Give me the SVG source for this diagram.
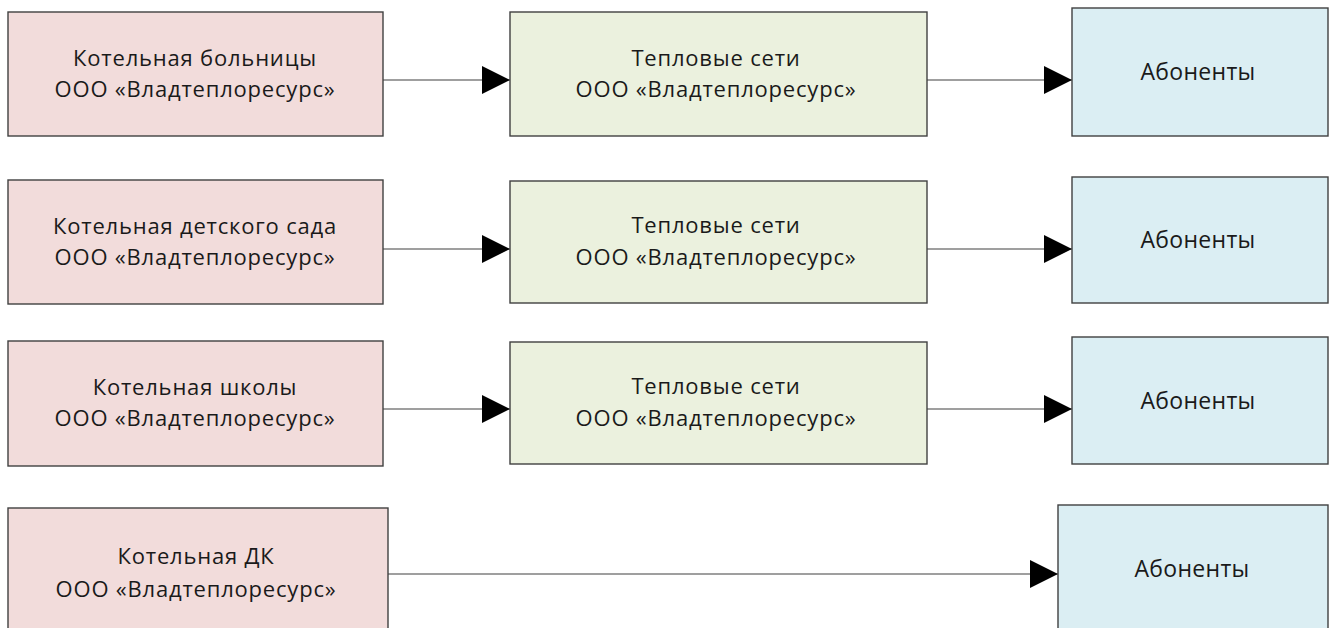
<svg xmlns="http://www.w3.org/2000/svg" width="1335" height="628" viewBox="0 0 1335 628">
<style>
  .box { stroke: #404040; stroke-width: 1.4; }
  .src { fill: #f2dcdb; }
  .net { fill: #ebf1de; }
  .sub { fill: #dbeef3; }
  text { font-family: "Open Sans", "Noto Sans", sans-serif; font-size: 22px; letter-spacing: 0.8px; fill: #1a1a1a; text-anchor: middle; }
  text.ab { font-size: 23px; letter-spacing: 0.3px; }
  .conn { stroke: #404040; stroke-width: 1.2; fill: none; marker-end: url(#arrow); }
</style>
<defs>
  <marker id="arrow" markerUnits="userSpaceOnUse" markerWidth="28" markerHeight="28" refX="28" refY="14" orient="auto">
    <path d="M0,0 L28,14 L0,28 z" fill="#000"/>
  </marker>
</defs>
<rect width="1335" height="628" fill="#fff"/>

<g id="connectors">
  <line class="conn" x1="383" y1="80" x2="510" y2="80"/>
  <line class="conn" x1="927" y1="80" x2="1072" y2="80"/>
  <line class="conn" x1="383" y1="249" x2="510" y2="249"/>
  <line class="conn" x1="927" y1="249" x2="1072" y2="249"/>
  <line class="conn" x1="383" y1="409" x2="510" y2="409"/>
  <line class="conn" x1="927" y1="409" x2="1072" y2="409"/>
  <line class="conn" x1="388" y1="574" x2="1058" y2="574"/>
</g>

<g id="src1">
  <rect class="box src" x="8" y="12" width="375" height="124"/>
  <text x="195" y="66">Котельная больницы</text>
  <text x="195" y="97">ООО «Владтеплоресурс»</text>
</g>
<g id="net1">
  <rect class="box net" x="510" y="12" width="417" height="124"/>
  <text x="716" y="66">Тепловые сети</text>
  <text x="716" y="97">ООО «Владтеплоресурс»</text>
</g>
<g id="sub1">
  <rect class="box sub" x="1072" y="8" width="256" height="128"/>
  <text class="ab" x="1198" y="80">Абоненты</text>
</g>

<g id="src2">
  <rect class="box src" x="8" y="180" width="375" height="124"/>
  <text x="195" y="234">Котельная детского сада</text>
  <text x="195" y="265">ООО «Владтеплоресурс»</text>
</g>
<g id="net2">
  <rect class="box net" x="510" y="181" width="417" height="122"/>
  <text x="716" y="233">Тепловые сети</text>
  <text x="716" y="265">ООО «Владтеплоресурс»</text>
</g>
<g id="sub2">
  <rect class="box sub" x="1072" y="177" width="256" height="126"/>
  <text class="ab" x="1198" y="248">Абоненты</text>
</g>

<g id="src3">
  <rect class="box src" x="8" y="341" width="375" height="125"/>
  <text x="195" y="395">Котельная школы</text>
  <text x="195" y="426">ООО «Владтеплоресурс»</text>
</g>
<g id="net3">
  <rect class="box net" x="510" y="342" width="417" height="122"/>
  <text x="716" y="394">Тепловые сети</text>
  <text x="716" y="426">ООО «Владтеплоресурс»</text>
</g>
<g id="sub3">
  <rect class="box sub" x="1072" y="337" width="256" height="127"/>
  <text class="ab" x="1198" y="409">Абоненты</text>
</g>

<g id="src4">
  <rect class="box src" x="8" y="508" width="380" height="140"/>
  <text x="196" y="564">Котельная ДК</text>
  <text x="196" y="597">ООО «Владтеплоресурс»</text>
</g>
<g id="sub4">
  <rect class="box sub" x="1058" y="505" width="270" height="140"/>
  <text class="ab" x="1192" y="577">Абоненты</text>
</g>
</svg>
